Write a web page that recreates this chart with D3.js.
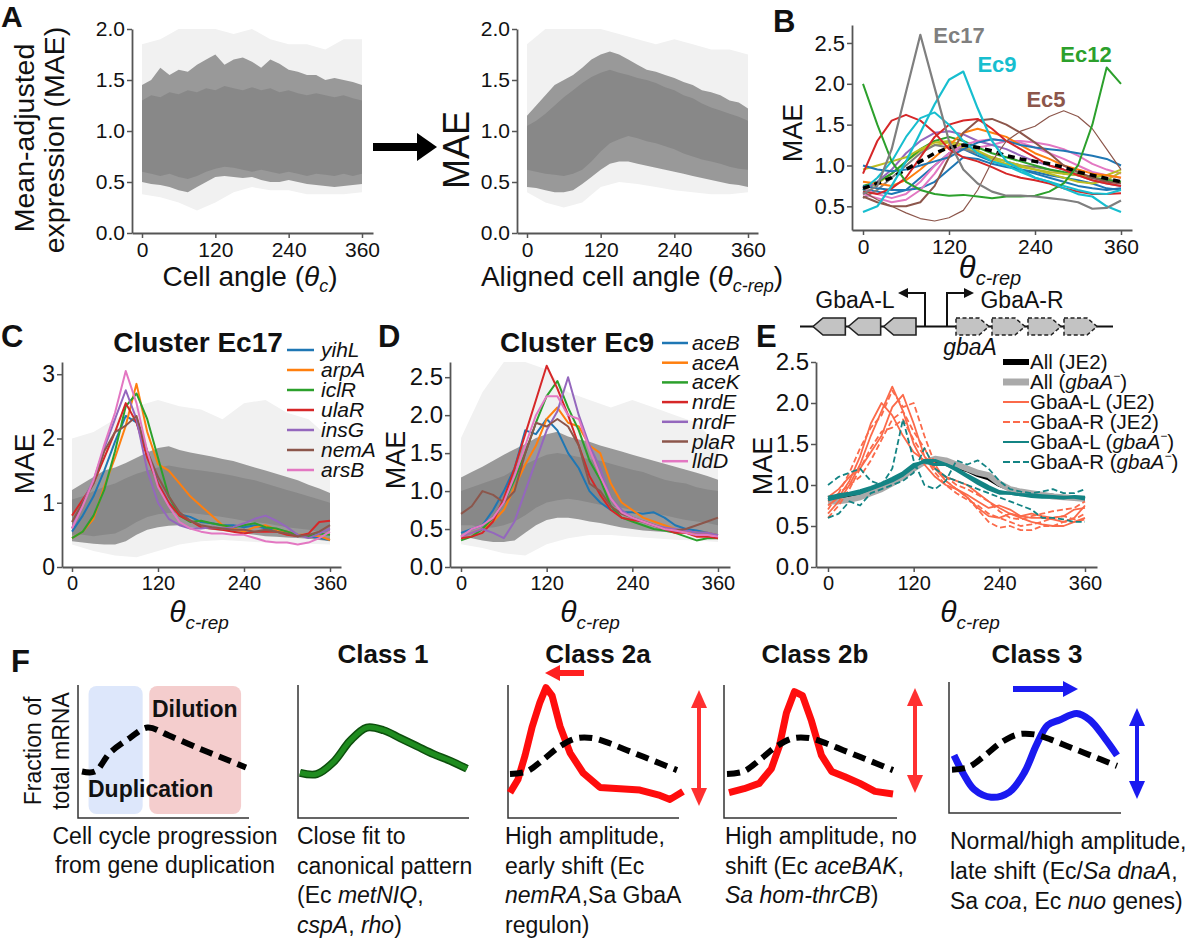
<!DOCTYPE html>
<html><head><meta charset="utf-8">
<script src="https://cdn.jsdelivr.net/npm/d3@7"></script>
<style>body{margin:0;background:#fff}svg{display:block}</style>
</head><body><svg id="fig" width="1200" height="938"></svg>
<script>
// ---------------- DATA ----------------
const angles15 = [0,15,30,45,60,75,90,105,120,135,150,165,180,195,210,225,240,255,270,285,300,315,330,345,360];
const angles20 = [0,20,40,60,80,100,120,140,160,180,200,220,240,260,280,300,320,340,360];
const angles30 = [0,30,60,90,120,150,180,210,240,270,300,330,360];
const xTicks = [0,120,240,360];

// Panel A (left): unaligned envelope of all genes
const aRawCoreLo = [0.6,0.58,0.56,0.58,0.55,0.53,0.56,0.6,0.63,0.65,0.64,0.62,0.6,0.62,0.6,0.58,0.6,0.58,0.56,0.58,0.57,0.56,0.58,0.56,0.58];
const aRawCoreHi = [1.3,1.35,1.33,1.38,1.36,1.4,1.38,1.42,1.4,1.44,1.42,1.4,1.43,1.4,1.42,1.38,1.4,1.37,1.35,1.37,1.35,1.33,1.35,1.32,1.3];
const aRawMidLo = [0.5,0.48,0.47,0.45,0.42,0.4,0.45,0.5,0.55,0.56,0.55,0.54,0.55,0.52,0.5,0.5,0.52,0.5,0.48,0.47,0.46,0.45,0.46,0.47,0.48];
const aRawMidHi = [1.45,1.5,1.62,1.55,1.6,1.58,1.65,1.7,1.75,1.65,1.7,1.72,1.68,1.62,1.7,1.66,1.6,1.58,1.55,1.55,1.5,1.52,1.5,1.48,1.45];
const aRawOutLo = [0.38,0.35,0.3,0.22,0.3,0.4,0.45,0.42,0.42,0.38,0.38,0.38,0.4];
const aRawOutHi = [1.85,1.9,2.0,2.0,2.0,1.95,2.0,1.9,1.85,1.85,1.8,1.9,1.9];
// Panel A (right): aligned envelope
const aAlnCoreLo = [0.62,0.6,0.58,0.57,0.56,0.58,0.62,0.7,0.8,0.88,0.92,0.95,0.93,0.9,0.88,0.85,0.82,0.78,0.75,0.72,0.7,0.68,0.65,0.63,0.62];
const aAlnCoreHi = [1.05,1.1,1.17,1.25,1.33,1.4,1.47,1.53,1.57,1.6,1.57,1.55,1.52,1.5,1.47,1.43,1.4,1.35,1.32,1.27,1.23,1.2,1.17,1.14,1.1];
const aAlnMidLo = [0.45,0.44,0.42,0.4,0.4,0.42,0.48,0.55,0.62,0.68,0.7,0.7,0.68,0.66,0.64,0.62,0.6,0.58,0.56,0.54,0.52,0.5,0.48,0.47,0.45];
const aAlnMidHi = [1.15,1.25,1.35,1.45,1.5,1.55,1.62,1.7,1.75,1.78,1.75,1.7,1.65,1.6,1.58,1.55,1.52,1.48,1.45,1.4,1.38,1.35,1.3,1.28,1.22];
const aAlnOutLo = [0.4,0.3,0.25,0.3,0.45,0.5,0.48,0.45,0.42,0.4,0.38,0.38,0.4];
const aAlnOutHi = [1.85,2.0,2.0,2.0,2.0,1.95,1.9,1.85,1.9,1.85,1.8,1.8,1.75];

// Panel B: cluster means (angles20)
const bEc17 = [0.65,0.75,1.2,1.9,2.6,1.95,1.3,0.95,0.78,0.68,0.63,0.63,0.62,0.6,0.58,0.55,0.47,0.48,0.57];
const bEc9  = [0.43,0.5,0.75,1.05,1.4,1.75,2.05,2.15,1.7,1.3,1.05,0.95,0.85,0.8,0.72,0.65,0.62,0.5,0.43];
const bEc12 = [2.0,1.5,1.05,0.8,0.7,0.65,0.63,0.64,0.62,0.6,0.62,0.62,0.63,0.68,0.78,1.0,1.5,2.2,2.0];
const bEc5  = [0.68,0.58,0.5,0.42,0.35,0.32,0.36,0.45,0.7,1.05,1.3,1.42,1.48,1.6,1.67,1.6,1.45,1.2,0.95];
const bRed1 = [0.9,1.3,1.55,1.62,1.55,1.4,1.2,1.1,1.05,0.98,0.9,0.85,0.82,0.78,0.72,0.68,0.65,0.65,0.66];
const bRed2 = [0.68,0.65,0.72,0.85,1.1,1.35,1.5,1.55,1.57,1.45,1.3,1.2,1.1,1.0,0.95,0.88,0.82,0.78,0.75];
const bCyan2 = [0.7,0.85,1.05,1.35,1.58,1.65,1.5,1.3,1.15,1.05,1.0,0.92,0.85,0.8,0.75,0.7,0.66,0.65,0.7];
const bBrown2 = [0.62,0.55,0.5,0.5,0.55,0.75,1.1,1.4,1.55,1.57,1.5,1.4,1.28,1.15,1.0,0.92,0.85,0.8,0.78];
const bBlue1 = [1.0,0.95,0.93,0.95,1.0,1.05,1.1,1.2,1.28,1.32,1.3,1.25,1.22,1.2,1.18,1.15,1.12,1.08,1.0];
const bBlue2 = [0.75,0.72,0.7,0.7,0.72,0.8,0.95,1.1,1.08,1.02,0.98,0.95,0.9,0.85,0.8,0.75,0.72,0.7,0.72];
const bBlue3 = [0.7,0.68,0.65,0.7,0.85,1.0,1.15,1.2,1.12,1.05,1.0,0.95,0.92,0.88,0.85,0.82,0.78,0.72,0.7];
const bPurple = [0.7,0.8,0.95,1.15,1.3,1.4,1.42,1.38,1.3,1.25,1.2,1.12,1.05,1.0,0.95,0.88,0.82,0.78,0.75];
const bPink1 = [0.65,0.6,0.55,0.58,0.7,0.9,1.15,1.25,1.3,1.32,1.3,1.28,1.22,1.15,1.08,1.0,0.92,0.88,0.85];
const bPink2 = [0.72,0.65,0.6,0.65,0.8,1.0,1.15,1.2,1.22,1.25,1.3,1.3,1.28,1.25,1.2,1.12,1.02,0.95,0.9];
const bOlive1 = [0.95,1.0,1.05,1.1,1.2,1.28,1.3,1.25,1.18,1.1,1.05,1.0,0.95,0.92,0.9,0.88,0.86,0.88,0.95];
const bOlive2 = [0.7,0.78,0.9,1.05,1.18,1.25,1.28,1.22,1.15,1.08,1.02,0.98,0.95,0.9,0.85,0.8,0.78,0.82,0.92];
const bOrange = [0.8,0.78,0.75,0.82,0.95,1.1,1.25,1.4,1.45,1.4,1.35,1.25,1.15,1.08,1.0,0.95,0.9,0.88,0.85];
const bGreen2 = [0.75,0.8,0.9,1.05,1.2,1.3,1.35,1.3,1.22,1.15,1.1,1.05,1.0,0.95,0.92,0.9,0.85,0.82,0.8];
const bGray2 = [0.6,0.7,0.85,1.0,1.15,1.25,1.22,1.2,1.15,1.1,1.05,1.0,0.98,0.95,0.9,0.88,0.85,0.83,0.8];
const bMean = [0.72,0.78,0.85,0.95,1.05,1.15,1.22,1.25,1.22,1.18,1.12,1.08,1.05,1.02,0.98,0.92,0.88,0.84,0.8];
const bLabels = ["Ec17","Ec9","Ec12","Ec5"];

// Panel C: cluster Ec17 genes (angles15)
const cGenes = ["yihL","arpA","iclR","ulaR","insG","nemA","arsB"];
const cYihL = [0.55,0.8,1.1,1.5,1.95,2.35,2.25,1.8,1.3,1.0,0.82,0.78,0.7,0.68,0.65,0.65,0.62,0.65,0.6,0.58,0.55,0.5,0.48,0.45,0.42];
const cArpA = [0.45,0.55,0.75,1.25,1.7,2.2,2.85,2.1,1.6,1.5,1.3,1.1,0.95,0.8,0.65,0.6,0.55,0.62,0.65,0.58,0.55,0.5,0.5,0.48,0.42];
const cIclR = [0.45,0.55,0.8,1.2,1.8,2.5,2.7,2.3,1.7,1.1,0.8,0.7,0.72,0.68,0.65,0.62,0.65,0.68,0.62,0.6,0.55,0.5,0.48,0.52,0.5];
const cUlaR = [0.8,1.05,1.3,1.7,2.1,2.55,2.25,1.7,1.3,1.0,0.8,0.72,0.62,0.6,0.58,0.55,0.52,0.55,0.55,0.55,0.5,0.48,0.52,0.7,0.72];
const cInsG = [0.6,1.0,1.35,1.85,2.3,2.75,2.3,1.5,1.0,0.75,0.65,0.6,0.6,0.62,0.6,0.62,0.68,0.75,0.8,0.72,0.62,0.5,0.45,0.52,0.6];
const cNemA = [0.7,1.0,1.3,1.8,2.1,2.2,2.35,1.8,1.4,1.1,0.85,0.72,0.65,0.62,0.6,0.58,0.58,0.55,0.58,0.55,0.52,0.48,0.5,0.55,0.65];
const cArsB = [0.6,0.95,1.35,1.9,2.4,3.05,2.55,1.8,1.25,0.95,0.7,0.6,0.55,0.52,0.52,0.5,0.5,0.45,0.4,0.38,0.38,0.35,0.38,0.45,0.55];
const cCoreLo = [0.5,0.5,0.48,0.5,0.52,0.6,0.7,0.78,0.82,0.84,0.85,0.84,0.82,0.8,0.78,0.75,0.72,0.7,0.68,0.65,0.62,0.6,0.58,0.55,0.52];
const cCoreHi = [1.05,1.1,1.18,1.25,1.3,1.38,1.45,1.5,1.55,1.58,1.55,1.52,1.5,1.48,1.45,1.42,1.38,1.35,1.3,1.25,1.2,1.15,1.1,1.05,1.0];
const cMidLo = [0.4,0.38,0.36,0.35,0.35,0.4,0.5,0.58,0.62,0.64,0.65,0.62,0.6,0.58,0.56,0.55,0.52,0.5,0.48,0.47,0.46,0.45,0.44,0.42,0.4];
const cMidHi = [1.2,1.3,1.4,1.5,1.55,1.62,1.7,1.78,1.85,1.88,1.82,1.78,1.75,1.72,1.68,1.65,1.6,1.55,1.5,1.45,1.4,1.35,1.28,1.22,1.15];
const cOutLo = [0.35,0.25,0.18,0.15,0.25,0.35,0.4,0.42,0.4,0.38,0.38,0.36,0.35];
const cOutHi = [2.0,2.1,2.3,2.5,2.6,2.5,2.45,2.3,2.55,2.6,2.4,2.3,2.0];

// Panel D: cluster Ec9 genes (angles15)
const dGenes = ["aceB","aceA","aceK","nrdE","nrdF","plaR","lldD"];
const dAceB = [0.45,0.5,0.55,0.75,1.0,1.3,1.8,1.75,1.95,1.8,1.5,1.3,1.0,0.85,0.75,0.72,0.72,0.7,0.72,0.65,0.55,0.5,0.48,0.45,0.42];
const dAceA = [0.4,0.45,0.5,0.6,0.75,1.05,1.35,1.6,1.95,2.1,1.9,1.85,1.6,1.5,1.1,0.85,0.75,0.65,0.6,0.55,0.5,0.45,0.45,0.45,0.42];
const dAceK = [0.35,0.4,0.5,0.65,0.85,1.15,1.5,1.9,2.25,2.45,2.1,1.8,1.4,1.15,0.8,0.65,0.6,0.55,0.5,0.48,0.45,0.4,0.35,0.38,0.38];
const dNrdE = [0.38,0.4,0.45,0.6,0.9,1.3,1.75,2.2,2.65,2.35,2.0,1.6,1.2,0.95,0.75,0.65,0.62,0.6,0.55,0.5,0.45,0.45,0.4,0.4,0.38];
const dNrdF = [0.4,0.45,0.5,0.45,0.38,0.6,1.0,1.4,1.8,2.05,2.5,2.0,1.6,1.3,0.9,0.75,0.65,0.6,0.55,0.52,0.5,0.48,0.45,0.45,0.42];
const dPlaR = [0.7,0.8,1.0,0.95,0.85,1.0,1.5,1.9,1.85,1.95,1.85,1.6,1.1,1.0,0.8,0.7,0.65,0.6,0.55,0.5,0.48,0.5,0.55,0.6,0.65];
const dLldD = [0.4,0.5,0.55,0.65,0.85,1.2,1.6,2.0,2.25,2.25,2.0,1.95,1.55,1.2,0.9,0.72,0.65,0.6,0.55,0.5,0.48,0.45,0.42,0.42,0.4];
const dCoreLo = [0.55,0.55,0.52,0.52,0.55,0.6,0.68,0.78,0.85,0.88,0.9,0.88,0.85,0.82,0.8,0.78,0.75,0.72,0.7,0.68,0.65,0.62,0.6,0.58,0.55];
const dCoreHi = [1.0,1.05,1.1,1.15,1.2,1.28,1.35,1.42,1.48,1.5,1.48,1.45,1.42,1.4,1.36,1.32,1.28,1.25,1.2,1.15,1.12,1.1,1.05,1.02,1.0];
const dMidLo = [0.4,0.38,0.35,0.33,0.33,0.35,0.45,0.55,0.62,0.65,0.65,0.63,0.6,0.58,0.55,0.52,0.5,0.48,0.47,0.46,0.45,0.44,0.43,0.42,0.42];
const dMidHi = [1.18,1.25,1.32,1.4,1.48,1.55,1.62,1.7,1.75,1.78,1.72,1.68,1.65,1.6,1.56,1.52,1.48,1.44,1.4,1.36,1.32,1.28,1.24,1.2,1.15];
const dOutLo = [0.3,0.25,0.18,0.15,0.3,0.38,0.42,0.42,0.4,0.38,0.36,0.35,0.33];
const dOutHi = [1.7,2.3,2.7,2.7,2.6,2.3,2.2,2.1,2.2,2.1,2.0,1.9,1.6];

// Panel E: GbaA regulon (angles15)
const eAllJE2 = [0.82,0.83,0.87,0.9,0.95,1.0,1.05,1.12,1.22,1.28,1.3,1.28,1.22,1.18,1.12,1.08,1.0,0.95,0.92,0.9,0.88,0.87,0.85,0.84,0.83];
const eAllGba = [0.8,0.8,0.82,0.85,0.9,0.95,1.02,1.1,1.2,1.28,1.32,1.3,1.25,1.2,1.15,1.12,1.02,0.95,0.92,0.9,0.88,0.86,0.85,0.84,0.83];
const eJE2L = [
  [0.65,0.8,1.0,1.25,1.6,1.9,2.2,1.9,1.5,1.25,1.1,1.0,0.95,0.85,0.72,0.62,0.6,0.65,0.6,0.55,0.52,0.5,0.5,0.55,0.6],
  [0.75,0.85,1.05,1.35,1.75,2.0,1.85,1.6,1.4,1.3,1.2,1.05,0.95,0.88,0.8,0.72,0.75,0.7,0.62,0.6,0.6,0.58,0.55,0.6,0.75],
  [0.85,0.95,1.1,1.2,1.4,1.6,1.95,2.1,1.75,1.35,1.2,1.1,1.05,1.0,0.9,0.8,0.72,0.65,0.62,0.65,0.62,0.6,0.62,0.7,0.72]];
const eJE2R = [
  [0.7,0.9,1.15,1.45,1.7,1.85,2.15,1.95,2.0,1.6,1.25,1.05,0.95,0.85,0.7,0.55,0.48,0.5,0.45,0.45,0.5,0.5,0.55,0.55,0.58],
  [0.6,0.75,0.95,1.2,1.45,1.65,1.7,1.8,1.55,1.35,1.15,1.0,0.9,0.82,0.75,0.65,0.6,0.55,0.5,0.52,0.55,0.6,0.62,0.58,0.65],
  [0.8,0.9,1.0,1.1,1.3,1.55,1.8,1.9,1.65,1.45,1.2,1.1,1.0,0.95,0.88,0.8,0.68,0.6,0.58,0.62,0.65,0.68,0.7,0.72,0.8]];
const eGbaL = [
  [0.82,0.85,0.88,0.9,0.95,1.0,1.05,1.12,1.22,1.3,1.3,1.25,1.2,1.12,1.05,0.98,0.92,0.9,0.88,0.88,0.87,0.86,0.85,0.85,0.83],
  [0.85,0.88,0.9,0.93,0.97,1.02,1.08,1.15,1.25,1.28,1.25,1.25,1.18,1.1,1.02,0.95,0.9,0.9,0.88,0.86,0.85,0.85,0.84,0.86,0.85]];
const eGbaR = [
  [1.0,1.1,1.15,1.2,1.05,1.0,1.2,1.8,1.3,1.0,0.95,1.05,1.3,1.25,1.3,1.2,1.05,0.95,0.92,0.9,0.92,0.95,0.9,0.9,0.95],
  [0.6,0.65,0.8,0.75,0.9,0.95,1.0,1.05,1.15,1.45,1.2,1.1,1.05,1.0,0.95,0.9,0.85,0.8,0.75,0.7,0.6,0.6,0.58,0.55,0.55]];

// Panel F: schematic profiles (x = fraction of cell cycle, y = relative level)
const fRefX = [0,0.08,0.17,0.29,0.4,0.53,0.72,0.9,1.0];
const fRefY = [0.35,0.35,0.49,0.6,0.68,0.62,0.52,0.43,0.38];
const fCanonX = [0,0.1,0.2,0.3,0.4,0.5,0.6,0.7,0.8,0.9,1.0];
const fCanonY = [0.33,0.35,0.44,0.54,0.6,0.6,0.56,0.51,0.46,0.41,0.36];
const fClass1Y = [0.34,0.33,0.42,0.58,0.68,0.66,0.6,0.54,0.48,0.43,0.37];
const fClass2aX = [0,0.046,0.087,0.127,0.173,0.208,0.243,0.289,0.347,0.422,0.52,0.636,0.751,0.867,0.925,1.0];
const fClass2aY = [0.19,0.29,0.47,0.68,0.87,0.98,0.92,0.69,0.49,0.34,0.23,0.22,0.21,0.17,0.14,0.2];
const fClass2bX = [0,0.092,0.184,0.258,0.307,0.35,0.399,0.448,0.503,0.564,0.626,0.706,0.798,0.89,1.0];
const fClass2bY = [0.19,0.22,0.26,0.37,0.54,0.79,0.95,0.92,0.73,0.47,0.35,0.31,0.26,0.2,0.18];
const fClass3X = [0,0.062,0.123,0.228,0.34,0.432,0.506,0.574,0.648,0.753,0.833,0.926,1.0];
const fClass3Y = [0.44,0.29,0.18,0.12,0.16,0.31,0.52,0.67,0.71,0.76,0.71,0.57,0.44];
const fPhases = [{name:"Duplication", from:0.04, to:0.37}, {name:"Dilution", from:0.41, to:0.97}];
const fTitles = ["Class 1","Class 2a","Class 2b","Class 3"];

// ---------------- DRAWING ----------------
const FONT = '"Liberation Sans", Arial, Helvetica, sans-serif';
const svg = d3.select('#fig').attr('font-family', FONT);
svg.append('rect').attr('width',1200).attr('height',938).attr('fill','#fff');
const C10 = {blue:'#1f77b4',orange:'#ff7f0e',green:'#2ca02c',red:'#d62728',purple:'#9467bd',brown:'#8c564b',pink:'#e377c2',gray:'#7f7f7f',olive:'#bcbd22',cyan:'#17becf'};
const zip = (xs, ys) => xs.map((a,i)=>({a, v:ys[i]}));
const zip2 = (xs, lo, hi) => xs.map((a,i)=>({a, lo:lo[i], hi:hi[i]}));

function mkText(parent, x, y, segs, size, opts={}) {
  const t = parent.append('text').attr('x',x).attr('y',y).attr('font-size',size)
    .attr('text-anchor',opts.anchor||'start').attr('font-weight',opts.weight||'normal')
    .attr('fill',opts.fill||'#111');
  if (opts.rotate) t.attr('transform',`rotate(${opts.rotate},${x},${y})`);
  segs.forEach(s=>{
    if (typeof s === 'string') s = {t:s};
    const ts = t.append('tspan').text(s.t);
    if (s.i) ts.attr('font-style','italic');
    if (s.fs) ts.attr('font-size', s.fs);
    if (s.dy) ts.attr('dy', s.dy);
  });
  return t;
}
function panel(o){
  const k = (o.p360-o.p0)/360;
  const x = d3.scaleLinear().domain([(o.ax-o.p0)/k,(o.ar-o.p0)/k]).range([o.ax,o.ar]);
  const y = d3.scaleLinear().domain(o.yDomain).range([o.yBot,o.yTop]);
  const g = svg.append('g');
  const plot = g.append('g');
  return {x,y,g,plot,o};
}
function axes(p){
  const o = p.o;
  const gx = p.g.append('g').attr('transform',`translate(0,${o.yBot})`)
    .call(d3.axisBottom(p.x).tickValues(xTicks).tickFormat(d3.format('d')).tickSize(5).tickSizeOuter(0).tickPadding(1));
  const gy = p.g.append('g').attr('transform',`translate(${o.ax},0)`)
    .call(d3.axisLeft(p.y).tickValues(o.yTicks).tickFormat(o.yFmt).tickSize(5).tickSizeOuter(0).tickPadding(2));
  [[gx,o.xfs],[gy,o.yfs]].forEach(([a,fs])=>{
    a.attr('font-family',FONT).attr('font-size',fs);
    a.select('.domain').attr('stroke','#555').attr('stroke-width',1.8);
    a.selectAll('.tick line').attr('stroke','#555').attr('stroke-width',1.5);
    a.selectAll('.tick text').attr('fill','#111');
  });
  gx.selectAll('.tick text').attr('dy','0.85em');
}
function band(p, xs, lo, hi, fill, op){
  p.plot.append('path').datum(zip2(xs,lo,hi))
    .attr('d', d3.area().x(d=>p.x(d.a)).y0(d=>p.y(d.lo)).y1(d=>p.y(d.hi)))
    .attr('fill',fill).attr('fill-opacity',op);
}
function line(p, xs, ys, color, w, dash){
  const path = p.plot.append('path').datum(zip(xs,ys))
    .attr('d', d3.line().x(d=>p.x(d.a)).y(d=>p.y(d.v)))
    .attr('fill','none').attr('stroke',color).attr('stroke-width',w)
    .attr('stroke-linejoin','round').attr('stroke-linecap','butt');
  if (dash) path.attr('stroke-dasharray',dash);
  return path;
}
function envelope(p, cLo, cHi, mLo, mHi, oLo, oHi){
  band(p, angles30, oLo, oHi, '#f1f1f1', 1);
  band(p, angles15, mLo, mHi, '#999999', 1);
  band(p, angles15, cLo, cHi, '#888888', 1);
}
const f1 = d3.format('.1f'), fd = d3.format('d');

// ---- Panel A left ----
const pA1 = panel({ax:132, ar:373, p0:142, p360:362, yTop:29, yBot:233, yDomain:[0,2], yTicks:[0,0.5,1,1.5,2], yFmt:f1, xfs:21, yfs:21});
envelope(pA1, aRawCoreLo, aRawCoreHi, aRawMidLo, aRawMidHi, aRawOutLo, aRawOutHi);
axes(pA1);
mkText(svg, 34, 138, ['Mean-adjusted'], 28.5, {anchor:'middle', rotate:-90});
mkText(svg, 64, 140, ['expression (MAE)'], 28.5, {anchor:'middle', rotate:-90});
mkText(svg, 250, 286, ['Cell angle (', {t:'θ',i:true}, {t:'c',i:true,fs:18,dy:6}, {t:')',dy:-6}], 28, {anchor:'middle'});
mkText(svg, 1, 27, ['A'], 30, {weight:'bold'});
// arrow between A panels
svg.append('rect').attr('x',373).attr('y',143).attr('width',46).attr('height',8).attr('fill','#000');
svg.append('path').attr('d','M417,133 L437,147 L417,161 Z').attr('fill','#000');

// ---- Panel A right ----
const pA2 = panel({ax:517, ar:758, p0:527, p360:748, yTop:29, yBot:233, yDomain:[0,2], yTicks:[0,0.5,1,1.5,2], yFmt:f1, xfs:21, yfs:21});
envelope(pA2, aAlnCoreLo, aAlnCoreHi, aAlnMidLo, aAlnMidHi, aAlnOutLo, aAlnOutHi);
axes(pA2);
mkText(svg, 469, 150, ['MAE'], 36, {anchor:'middle', rotate:-90});
mkText(svg, 632, 286, ['Aligned cell angle (', {t:'θ',i:true}, {t:'c-rep',i:true,fs:18,dy:6}, {t:')',dy:-6}], 28, {anchor:'middle'});

// ---- Panel B ----
const pB = panel({ax:852, ar:1132, p0:863, p360:1121, yTop:25, yBot:230, yDomain:[0.21,2.72], yTicks:[0.5,1,1.5,2,2.5], yFmt:f1, xfs:21, yfs:22});
[[bBlue3,C10.blue],[bPink2,C10.pink],[bOlive2,C10.olive],[bGray2,C10.gray],[bGreen2,C10.green],[bBlue2,C10.blue],
 [bPurple,C10.purple],[bPink1,C10.pink],[bOlive1,C10.olive],[bOrange,C10.orange],[bBlue1,C10.blue],[bBrown2,C10.brown],
 [bRed2,C10.red],[bRed1,C10.red],[bCyan2,C10.cyan]].forEach(([s,c])=>line(pB, angles20, s, c, 2));
line(pB, angles20, bMean, '#000', 3.5, '7,5');
line(pB, angles20, bEc5, C10.brown, 1.2);
line(pB, angles20, bEc12, C10.green, 2);
line(pB, angles20, bEc9, C10.cyan, 2.2);
line(pB, angles20, bEc17, C10.gray, 2.2);
axes(pB);
mkText(svg, 802, 133, ['MAE'], 27, {anchor:'middle', rotate:-90});
mkText(svg, 990, 278, [{t:'θ',i:true}, {t:'c-rep',i:true,fs:20,dy:7}], 31, {anchor:'middle'});
mkText(svg, 773, 32, ['B'], 31, {weight:'bold'});
const bLabPos = [[959,43,C10.gray],[997,72,C10.cyan],[1086,62,C10.green],[1046,107,C10.brown]];
bLabels.forEach((l,i)=>mkText(svg, bLabPos[i][0], bLabPos[i][1], [l], 22, {anchor:'middle', weight:'bold', fill:bLabPos[i][2]}));

// ---- Panel C ----
const pC = panel({ax:62, ar:341, p0:72, p360:330, yTop:362, yBot:567, yDomain:[0,3.19], yTicks:[0,1,2,3], yFmt:fd, xfs:20, yfs:23});
envelope(pC, cCoreLo, cCoreHi, cMidLo, cMidHi, cOutLo, cOutHi);
const cSeries = [cYihL,cArpA,cIclR,cUlaR,cInsG,cNemA,cArsB];
const cCols = [C10.blue,C10.orange,C10.green,C10.red,C10.purple,C10.brown,C10.pink];
cSeries.forEach((s,i)=>line(pC, angles15, s, cCols[i], 2));
axes(pC);
mkText(svg, 34, 464, ['MAE'], 28, {anchor:'middle', rotate:-90});
mkText(svg, 199, 622, [{t:'θ',i:true}, {t:'c-rep',i:true,fs:19,dy:7}], 30, {anchor:'middle'});
mkText(svg, 198, 352, ['Cluster Ec17'], 28, {anchor:'middle', weight:'bold'});
mkText(svg, 1, 347, ['C'], 31, {weight:'bold'});
cGenes.forEach((gname,i)=>{
  const yy = 350 + i*20;
  svg.append('line').attr('x1',287).attr('x2',314).attr('y1',yy).attr('y2',yy).attr('stroke',cCols[i]).attr('stroke-width',2.5);
  mkText(svg, 321, yy+7, [{t:gname,i:true}], 21);
});

// ---- Panel D ----
const pD = panel({ax:450, ar:730, p0:461, p360:718, yTop:362, yBot:567, yDomain:[0,2.7], yTicks:[0,0.5,1,1.5,2,2.5], yFmt:f1, xfs:20, yfs:24});
envelope(pD, dCoreLo, dCoreHi, dMidLo, dMidHi, dOutLo, dOutHi);
const dSeries = [dAceB,dAceA,dAceK,dNrdE,dNrdF,dPlaR,dLldD];
dSeries.forEach((s,i)=>line(pD, angles15, s, cCols[i], 2));
axes(pD);
mkText(svg, 405, 460, ['MAE'], 27, {anchor:'middle', rotate:-90});
mkText(svg, 590, 622, [{t:'θ',i:true}, {t:'c-rep',i:true,fs:19,dy:7}], 30, {anchor:'middle'});
mkText(svg, 577, 352, ['Cluster Ec9'], 28, {anchor:'middle', weight:'bold'});
mkText(svg, 378, 347, ['D'], 31, {weight:'bold'});
dGenes.forEach((gname,i)=>{
  const yy = 343 + i*19.7;
  svg.append('line').attr('x1',662).attr('x2',688).attr('y1',yy).attr('y2',yy).attr('stroke',cCols[i]).attr('stroke-width',2.5);
  mkText(svg, 692, yy+7, [{t:gname,i:true}], 21);
});

// ---- Panel E ----
const SALMON = '#fb6a4a', TEAL = '#138484';
const pE = panel({ax:816, ar:1097, p0:828, p360:1085, yTop:362, yBot:567, yDomain:[0,2.5], yTicks:[0,0.5,1,1.5,2,2.5], yFmt:f1, xfs:20, yfs:24});
line(pE, angles15, eAllJE2, '#000', 4);
line(pE, angles15, eAllGba, '#aaaaaa', 6);
eJE2L.forEach(s=>line(pE, angles15, s, SALMON, 1.8));
eJE2R.forEach(s=>line(pE, angles15, s, SALMON, 1.8, '6,3'));
eGbaR.forEach(s=>line(pE, angles15, s, TEAL, 1.8, '6,3'));
eGbaL.forEach(s=>line(pE, angles15, s, TEAL, 3));
axes(pE);
mkText(svg, 772, 466, ['MAE'], 27, {anchor:'middle', rotate:-90});
mkText(svg, 970, 622, [{t:'θ',i:true}, {t:'c-rep',i:true,fs:19,dy:7}], 30, {anchor:'middle'});
mkText(svg, 756, 347, ['E'], 31, {weight:'bold'});
// gene diagram
const geneL = ['L1','L2','L3'], geneR = ['gbaA','R2','R3','R4'];
const gy0 = 318, gy1 = 335, gmid = 326.5;
svg.append('line').attr('x1',800).attr('x2',1113).attr('y1',gmid).attr('y2',gmid).attr('stroke','#111').attr('stroke-width',2);
const gxL = d3.scaleLinear().domain([0,3]).range([812,918]);
geneL.forEach((gn,i)=>{
  const a = gxL(i)+1, b = gxL(i+1)-2;
  svg.append('path').attr('d',`M${a},${gmid} L${a+10},${gy0} L${b},${gy0} L${b},${gy1} L${a+10},${gy1} Z`)
    .attr('fill','#c3c3c3').attr('stroke','#222').attr('stroke-width',1.6);
});
const gxR = d3.scaleLinear().domain([0,4]).range([955,1099]);
geneR.forEach((gn,i)=>{
  const a = gxR(i)+1, b = gxR(i+1)-2;
  svg.append('path').attr('d',`M${a},${gy0} L${b-10},${gy0} L${b},${gmid} L${b-10},${gy1} L${a},${gy1} Z`)
    .attr('fill','#c3c3c3').attr('stroke','#222').attr('stroke-width',1.5).attr('stroke-dasharray','4,2.5');
});
svg.append('path').attr('d',`M925,${gmid} L925,293 L906,293`).attr('fill','none').attr('stroke','#111').attr('stroke-width',2);
svg.append('path').attr('d','M898,293 L908,288 L908,298 Z').attr('fill','#111');
svg.append('path').attr('d',`M947,${gmid} L947,293 L966,293`).attr('fill','none').attr('stroke','#111').attr('stroke-width',2);
svg.append('path').attr('d','M974,293 L964,288 L964,298 Z').attr('fill','#111');
mkText(svg, 855, 308, ['GbaA-L'], 23, {anchor:'middle'});
mkText(svg, 1022, 308, ['GbaA-R'], 23, {anchor:'middle'});
mkText(svg, 970, 355, [{t:'gbaA',i:true}], 23, {anchor:'middle'});
// legend E
const eLegend = [
  {segs:['All (JE2)'], color:'#000', w:6},
  {segs:['All (',{t:'gbaA',i:true},{t:'−',fs:12,dy:-9},{t:')',dy:9}], color:'#aaaaaa', w:7},
  {segs:['GbaA-L (JE2)'], color:SALMON, w:2},
  {segs:['GbaA-R (JE2)'], color:SALMON, w:2, dash:'7,3'},
  {segs:['GbaA-L (',{t:'gbaA',i:true},{t:'−',fs:12,dy:-9},{t:')',dy:9}], color:TEAL, w:2},
  {segs:['GbaA-R (',{t:'gbaA',i:true},{t:'−',fs:12,dy:-9},{t:')',dy:9}], color:TEAL, w:2, dash:'7,3'}];
eLegend.forEach((L,i)=>{
  const yy = 362 + i*20;
  const ln = svg.append('line').attr('x1',1003).attr('x2',1029).attr('y1',yy).attr('y2',yy).attr('stroke',L.color).attr('stroke-width',L.w);
  if (L.dash) ln.attr('stroke-dasharray',L.dash);
  mkText(svg, 1030, yy+7, L.segs, 20.5);
});

// ---- Panel F ----
mkText(svg, 11, 672, ['F'], 31, {weight:'bold'});
const fLay = [
  {ax:78, ar:249, top:685, bot:818, cx0:82, cx1:246},
  {ax:298, ar:469, top:685, bot:818, cx0:300, cx1:467},
  {ax:508, ar:679, top:685, bot:818, cx0:510, cx1:683},
  {ax:724, ar:897, top:685, bot:818, cx0:729, cx1:893},
  {ax:949, ar:1121, top:682, bot:813, cx0:954, cx1:1117}];
const fSc = fLay.map(L=>({x:d3.scaleLinear().domain([0,1]).range([L.cx0,L.cx1]), y:d3.scaleLinear().domain([0,1]).range([L.bot,L.top])}));
function fLine(i, xs, ys, color, w, dash, xr, curve){
  const s = fSc[i];
  const xs2 = xr ? d3.scaleLinear().domain([0,1]).range(xr) : s.x;
  const p = svg.append('path').datum(xs.map((a,j)=>[a,ys[j]]))
    .attr('d', d3.line().curve(curve||d3.curveCatmullRom).x(d=>xs2(d[0])).y(d=>s.y(d[1])))
    .attr('fill','none').attr('stroke',color).attr('stroke-width',w).attr('stroke-linejoin','round');
  if (dash) p.attr('stroke-dasharray',dash);
  return p;
}
// phase rects in panel 0
const phCol = ['#dde7fb','#f4cdcd'];
fPhases.forEach((ph,i)=>{
  svg.append('rect').attr('x',fSc[0].x(ph.from)).attr('y',686).attr('width',fSc[0].x(ph.to)-fSc[0].x(ph.from)).attr('height',128)
    .attr('rx',8).attr('fill',phCol[i]);
});
fLay.forEach(L=>{
  svg.append('path').attr('d',`M${L.ax},${L.top} L${L.ax},${L.bot} L${L.ar},${L.bot}`).attr('fill','none').attr('stroke','#333').attr('stroke-width',1.5);
});
mkText(svg, 152, 717, ['Dilution'], 23, {weight:'bold'});
mkText(svg, 88, 797, ['Duplication'], 23, {weight:'bold'});
fLine(0, fRefX, fRefY, '#000', 6, '13,7');
mkText(svg, 41, 751, ['Fraction of'], 23, {anchor:'middle', rotate:-90});
mkText(svg, 69, 751, ['total mRNA'], 23, {anchor:'middle', rotate:-90});
// class 1
fLine(1, fCanonX, fClass1Y, '#0d4f0d', 8);
fLine(1, fCanonX, fClass1Y, '#1f8c1f', 5);
// class 2a
fLine(2, fClass2aX, fClass2aY, '#ff0d0d', 7, null, null, d3.curveLinear);
fLine(2, fCanonX, fCanonY, '#000', 6, '13,7', [510,677]);
// class 2b
fLine(3, fClass2bX, fClass2bY, '#ff0d0d', 7, null, null, d3.curveLinear);
fLine(3, fCanonX, fCanonY, '#000', 6, '13,7', [727,893]);
// class 3
fLine(4, fClass3X, fClass3Y, '#1a1af0', 7);
fLine(4, fCanonX, fCanonY, '#000', 6, '13,7', [952,1117]);
// arrows
function hArrow(x0, x1, y, color){
  const dir = Math.sign(x1-x0), hl = 15;
  svg.append('line').attr('x1',x0).attr('x2',x1-dir*hl).attr('y1',y).attr('y2',y).attr('stroke',color).attr('stroke-width',6);
  svg.append('path').attr('d',`M${x1},${y} L${x1-dir*hl},${y-8} L${x1-dir*hl},${y+8} Z`).attr('fill',color);
}
function vArrow(x, y0, y1, color){
  const hl = 18;
  svg.append('line').attr('x1',x).attr('x2',x).attr('y1',y0+hl).attr('y2',y1-hl).attr('stroke',color).attr('stroke-width',4);
  svg.append('path').attr('d',`M${x},${y0} L${x-8},${y0+hl} L${x+8},${y0+hl} Z`).attr('fill',color);
  svg.append('path').attr('d',`M${x},${y1} L${x-8},${y1-hl} L${x+8},${y1-hl} Z`).attr('fill',color);
}
hArrow(584, 545, 673, '#ff2020');
vArrow(699, 690, 806, '#ff3030');
vArrow(915, 688, 793, '#ff3030');
hArrow(1013, 1078, 689, '#1a1af0');
vArrow(1137, 708, 799, '#1a1af0');
// titles
[383,598,815,1037].forEach((cx,i)=>mkText(svg, cx, 663, [fTitles[i]], 26, {anchor:'middle', weight:'bold'}));
// descriptions
const FS = 23;
mkText(svg, 165, 844, ['Cell cycle progression'], FS, {anchor:'middle'});
mkText(svg, 165, 873, ['from gene duplication'], FS, {anchor:'middle'});
const c1 = [['Close fit to'],['canonical pattern'],['(Ec ',{t:'metNIQ',i:true},','],[{t:'cspA',i:true},', ',{t:'rho',i:true},')']];
c1.forEach((s,i)=>mkText(svg, 297, 844+i*29.5, s, FS));
const c2a = [['High amplitude,'],['early shift (Ec'],[{t:'nemRA',i:true},',Sa GbaA'],['regulon)']];
c2a.forEach((s,i)=>mkText(svg, 505, 844+i*29.5, s, FS));
const c2b = [['High amplitude, no'],['shift (Ec ',{t:'aceBAK',i:true},','],[{t:'Sa hom-thrCB',i:true},')']];
c2b.forEach((s,i)=>mkText(svg, 725, 844+i*29.5, s, FS));
const c3 = [['Normal/high amplitude,'],['late shift (Ec/',{t:'Sa dnaA',i:true},','],['Sa ',{t:'coa',i:true},', Ec ',{t:'nuo',i:true},' genes)']];
c3.forEach((s,i)=>mkText(svg, 950, 849+i*30, s, FS));
</script></body></html>
